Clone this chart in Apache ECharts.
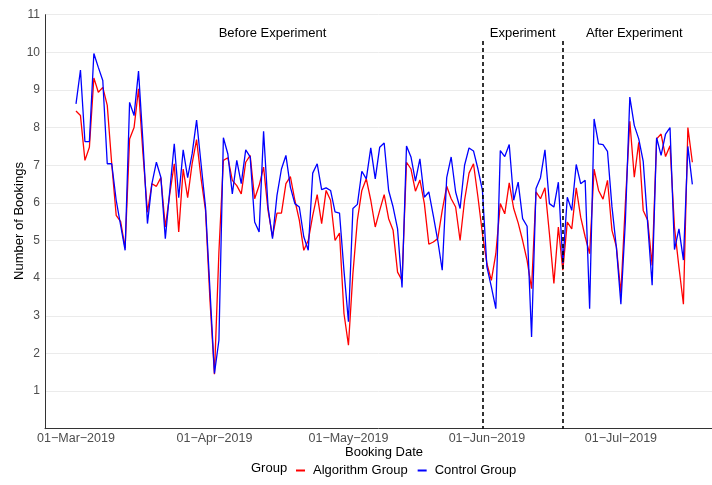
<!DOCTYPE html>
<html>
<head>
<meta charset="utf-8">
<script src="https://cdn.jsdelivr.net/npm/echarts@6/dist/echarts.min.js"></script>
<style>
  html, body { margin: 0; padding: 0; background: #ffffff; }
  #chart { width: 712px; height: 485px; }
</style>
</head>
<body>
<div id="chart"></div>
<script>
// ---- data ----
const startDate = '2019-03-01';
const seriesNames = ['Algorithm Group', 'Control Group'];
const algorithmGroup = [
  8.44, 8.32, 7.13, 7.48, 9.32, 8.94, 9.07, 8.59, 7.04, 5.67,
  5.50, 4.80, 7.70, 8.00, 9.03, 7.30, 5.75, 6.51, 6.44, 6.67,
  5.36, 6.24, 7.04, 5.23, 6.90, 6.14, 7.04, 7.68, 6.65, 5.80,
  3.40, 1.45, 4.70, 7.13, 7.20, 6.60, 6.46, 6.24, 7.08, 7.26,
  6.11, 6.46, 6.95, 5.80, 5.10, 5.73, 5.73, 6.51, 6.70, 6.07,
  5.54, 4.74, 5.00, 5.66, 6.22, 5.45, 6.33, 6.07, 5.00, 5.20,
  3.06, 2.22, 4.12, 5.54, 6.33, 6.64, 6.07, 5.36, 5.80, 6.22,
  5.58, 5.27, 4.16, 3.94, 7.08, 6.90, 6.31, 6.61, 5.98, 4.90,
  4.96, 5.05, 5.80, 6.44, 6.11, 5.89, 5.00, 6.07, 6.79, 7.04,
  6.15, 5.18, 4.39, 3.94, 4.65, 5.98, 5.71, 6.53, 5.85, 5.47,
  5.00, 4.47, 3.72, 6.29, 6.11, 6.40, 5.18, 3.86, 5.36, 4.21,
  5.49, 5.31, 6.40, 5.62, 5.10, 4.65, 6.90, 6.33, 6.10, 6.60,
  5.27, 4.83, 3.59, 5.98, 8.17, 6.68, 7.61, 5.80, 5.54, 4.34,
  7.70, 7.83, 7.23, 7.52, 5.35, 4.29, 3.31, 8.00, 7.08
];
const controlGroup = [
  8.63, 9.53, 7.63, 7.63, 9.97, 9.60, 9.25, 7.04, 7.04, 6.07,
  5.40, 4.74, 8.67, 8.32, 9.50, 7.60, 5.45, 6.51, 7.08, 6.68,
  5.05, 6.33, 7.57, 6.14, 7.41, 6.67, 7.30, 8.20, 7.04, 5.89,
  3.68, 1.47, 2.35, 7.73, 7.30, 6.24, 7.13, 6.51, 7.41, 7.22,
  5.49, 5.23, 7.90, 5.89, 5.05, 6.20, 6.90, 7.26, 6.42, 5.98,
  5.89, 5.10, 4.74, 6.79, 7.04, 6.35, 6.40, 6.33, 5.76, 5.73,
  4.20, 2.84, 5.85, 5.96, 6.84, 6.64, 7.46, 6.64, 7.48, 7.59,
  6.33, 5.89, 5.31, 3.75, 7.51, 7.22, 6.58, 7.17, 6.15, 6.29,
  5.66, 5.00, 4.21, 6.67, 7.22, 6.29, 5.85, 7.00, 7.46, 7.38,
  6.90, 6.33, 4.30, 3.77, 3.19, 7.39, 7.23, 7.55, 6.07, 6.55,
  5.58, 5.38, 2.44, 6.38, 6.67, 7.41, 5.98, 5.89, 6.55, 4.40,
  6.15, 5.80, 7.02, 6.51, 6.60, 3.19, 8.23, 7.57, 7.55, 7.37,
  5.90, 4.80, 3.31, 5.50, 8.81, 8.06, 7.70, 7.10, 5.45, 3.81,
  7.73, 7.26, 7.83, 8.00, 4.76, 5.31, 4.48, 7.50, 6.49
];
const tickDates = ['2019-03-01', '2019-04-01', '2019-05-01', '2019-06-01', '2019-07-01'];
const tickLabels = ['01\u2212Mar\u22122019', '01\u2212Apr\u22122019', '01\u2212May\u22122019', '01\u2212Jun\u22122019', '01\u2212Jul\u22122019'];
const phaseBoundaries = ['2019-05-31', '2019-06-18'];
const phaseLabels = ['Before Experiment', 'Experiment', 'After Experiment'];
const phaseLabelDates = ['2019-04-14', '2019-06-09', '2019-07-04'];
const yTicks = [1, 2, 3, 4, 5, 6, 7, 8, 9, 10, 11];

// ---- helpers ----
const DAY = 86400000;
function ts(s) { const p = s.split('-').map(Number); return Date.UTC(p[0], p[1] - 1, p[2]); }
const t0 = ts(startDate);
function toPairs(arr) { return arr.map((v, i) => [t0 + i * DAY, v]); }
const tickTs = tickDates.map(ts);
const FONT = "'Liberation Sans', Arial, Helvetica, sans-serif";

const chart = echarts.init(document.getElementById('chart'), null, { renderer: 'canvas' });

const option = {
  animation: false,
  backgroundColor: '#ffffff',
  grid: { left: 45, right: 0, top: 14.7, bottom: 56.3, containLabel: false, outerBoundsMode: 'none' },
  xAxis: {
    type: 'value',
    min: t0 - 6.94 * DAY,
    max: t0 + 142.4 * DAY,
    axisLine: { show: true, lineStyle: { color: '#333333', width: 1 } },
    axisTick: { show: false },
    splitLine: { show: false },
    axisLabel: {
      customValues: tickTs,
      formatter: function (v) {
        const i = tickTs.indexOf(v);
        return i >= 0 ? tickLabels[i] : '';
      },
      color: '#4d4d4d', fontSize: 12.5, fontFamily: FONT, margin: 3,
      hideOverlap: false
    }
  },
  yAxis: {
    type: 'value',
    min: 0, max: 11, interval: 1,
    axisLine: { show: true, lineStyle: { color: '#333333', width: 1 } },
    axisTick: { show: false },
    splitLine: { show: true, lineStyle: { color: '#ebebeb', width: 1 } },
    axisLabel: {
      formatter: function (v) { return yTicks.indexOf(v) >= 0 ? String(v) : ''; },
      color: '#4d4d4d', fontSize: 12, fontFamily: FONT, margin: 5
    }
  },
  legend: {
    data: seriesNames,
    left: 291, top: 459,
    icon: 'rect', itemWidth: 9, itemHeight: 2,
    itemGap: 10,
    textStyle: { color: '#000000', fontSize: 13, fontFamily: FONT, padding: [0, 0, 0, 3] },
    selectedMode: false
  },
  series: [
    {
      name: seriesNames[0], type: 'line', data: toPairs(algorithmGroup),
      showSymbol: false, symbol: 'none',
      lineStyle: { color: '#ff0000', width: 1.3 }, itemStyle: { color: '#ff0000' },
      markLine: {
        silent: true, symbol: ['none', 'none'], label: { show: false },
        lineStyle: { color: '#000000', type: [4, 3], width: 1.6 },
        data: phaseBoundaries.map(d => [{ coord: [ts(d), 10.3] }, { coord: [ts(d), 0] }])
      },
      z: 2
    },
    {
      name: seriesNames[1], type: 'line', data: toPairs(controlGroup),
      showSymbol: false, symbol: 'none',
      lineStyle: { color: '#0000ff', width: 1.3 }, itemStyle: { color: '#0000ff' },
      z: 3
    }
  ]
};
chart.setOption(option);

// text annotations positioned via the axes
const graphics = phaseLabels.map((txt, i) => {
  const p = chart.convertToPixel({ gridIndex: 0 }, [ts(phaseLabelDates[i]), 10.4]);
  return {
    type: 'text', x: p[0], y: 33,
    style: { text: txt, fill: '#000000', font: '13px ' + FONT, align: 'center', verticalAlign: 'middle' }
  };
});
graphics.push({
  type: 'text', x: 384, y: 452,
  style: { text: 'Booking Date', fill: '#000000', font: '13px ' + FONT, align: 'center', verticalAlign: 'middle' }
});
graphics.push({
  type: 'text', x: 19, y: 221, rotation: Math.PI / 2,
  style: { text: 'Number of Bookings', fill: '#000000', font: '13px ' + FONT, align: 'center', verticalAlign: 'middle' }
});
graphics.push({
  type: 'text', x: 251, y: 468,
  style: { text: 'Group', fill: '#000000', font: '13px ' + FONT, align: 'left', verticalAlign: 'middle' }
});
chart.setOption({ graphic: graphics });
</script>
</body>
</html>
